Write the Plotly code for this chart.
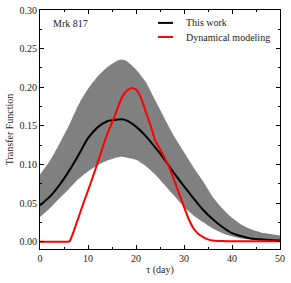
import plotly.graph_objects as go

# ---- data ----
tau_model = [0, 2, 4, 6, 8, 10, 12, 14, 16, 17, 18, 20, 22, 24, 26, 28, 30,
             32, 34, 36, 38, 40, 42, 44, 46, 48, 50]
this_work = [0.047, 0.058, 0.073, 0.091, 0.112, 0.134, 0.148, 0.156, 0.158, 0.1585,
             0.157, 0.149, 0.137, 0.122, 0.106, 0.088, 0.072, 0.056, 0.041, 0.029,
             0.019, 0.011, 0.007, 0.004, 0.003, 0.002, 0.0015]
band_upper = [0.087, 0.104, 0.126, 0.150, 0.177, 0.198, 0.214, 0.226, 0.234, 0.236,
              0.234, 0.223, 0.207, 0.183, 0.159, 0.136, 0.116, 0.096, 0.078, 0.058,
              0.043, 0.031, 0.022, 0.016, 0.012, 0.010, 0.008]
band_lower = [0.032, 0.043, 0.056, 0.068, 0.081, 0.091, 0.099, 0.105, 0.109, 0.110,
              0.109, 0.106, 0.098, 0.087, 0.073, 0.059, 0.045, 0.034, 0.025, 0.017,
              0.011, 0.007, 0.004, 0.0025, 0.0015, 0.001, 0.0007]

tau_dyn = [0, 2, 4, 6, 6.3, 7, 8, 9, 10, 11, 12, 13, 14, 15, 16, 17, 18, 19, 20,
           21, 22, 23, 24, 25, 26, 27, 28, 29, 30, 31, 32, 33, 34, 35, 36, 38, 40,
           45, 50]
dyn_model = [0.0, 0.0, 0.0, 0.0, 0.002, 0.013, 0.031, 0.049, 0.066, 0.084, 0.102,
             0.121, 0.139, 0.154, 0.170, 0.186, 0.195, 0.199, 0.197, 0.187, 0.169,
             0.151, 0.131, 0.120, 0.108, 0.095, 0.079, 0.062, 0.045, 0.029, 0.017,
             0.010, 0.006, 0.003, 0.0015, 0.0007, 0.0005, 0.0005, 0.0005]

legend_labels = ["This work", "Dynamical modeling"]
legend_colors = ["black", "#ff0000"]

x_ticks = [0, 10, 20, 30, 40, 50]
y_ticks = [0.00, 0.05, 0.10, 0.15, 0.20, 0.25, 0.30]
y_tick_labels = ["0.00", "0.05", "0.10", "0.15", "0.20", "0.25", "0.30"]

FONT = "Liberation Serif"
TXT = "#222"

fig = go.Figure()
fig.add_trace(go.Scatter(x=tau_model, y=band_lower, mode="lines",
                         line=dict(width=0, shape="spline", smoothing=0.6),
                         showlegend=False, hoverinfo="skip"))
fig.add_trace(go.Scatter(x=tau_model, y=band_upper, mode="lines",
                         line=dict(width=0, shape="spline", smoothing=0.6),
                         fill="tonexty", fillcolor="#808080",
                         showlegend=False, hoverinfo="skip"))
fig.add_trace(go.Scatter(x=tau_model, y=this_work, mode="lines", name=legend_labels[0],
                         showlegend=False,
                         line=dict(color=legend_colors[0], width=2, shape="spline", smoothing=0.6)))
fig.add_trace(go.Scatter(x=tau_dyn, y=dyn_model, mode="lines", name=legend_labels[1],
                         showlegend=False,
                         line=dict(color=legend_colors[1], width=2, shape="spline", smoothing=0.4)))

axis_common = dict(showline=True, linecolor="black", linewidth=1, mirror="ticks",
                   ticks="inside", ticklen=4, tickcolor="black", showgrid=False,
                   zeroline=False, automargin=False,
                   tickfont=dict(family=FONT, size=10, color=TXT))

fig.update_xaxes(range=[0, 50], tickvals=x_ticks,
                 minor=dict(ticks="inside", dtick=5, ticklen=2, tickcolor="black"),
                 title=dict(text="τ (day)", font=dict(family=FONT, size=10, color=TXT),
                            standoff=2),
                 **axis_common)
fig.update_yaxes(range=[-0.0095, 0.30], tickvals=y_ticks, ticktext=y_tick_labels,
                 minor=dict(ticks="inside", dtick=0.025, ticklen=2, tickcolor="black"),
                 title=dict(text="Transfer Function", font=dict(family=FONT, size=10, color=TXT),
                            standoff=4),
                 **axis_common)

fig.add_annotation(text="Mrk 817", xref="paper", yref="paper", x=0.045, y=0.945,
                   xanchor="left", yanchor="middle", showarrow=False,
                   font=dict(family=FONT, size=10, color=TXT))

# manual legend (short line samples as in the reference)
leg_y = [0.946, 0.887]
for lab, col, yy in zip(legend_labels, legend_colors, leg_y):
    fig.add_shape(type="line", xref="paper", yref="paper", x0=0.492, x1=0.554,
                  y0=yy, y1=yy, line=dict(color=col, width=2))
    fig.add_annotation(text=lab, xref="paper", yref="paper", x=0.598, y=yy,
                       xanchor="left", yanchor="middle", showarrow=False,
                       font=dict(family=FONT, size=10, color=TXT))

fig.update_layout(
    width=291, height=283,
    margin=dict(l=40, r=11, t=10, b=34),
    plot_bgcolor="white", paper_bgcolor="white",
    font=dict(family=FONT, size=10, color=TXT),
    showlegend=False,
)

fig.write_html("out.html", config={"displayModeBar": False},
               post_script="document.body.style.margin='0px';"
                           "document.body.style.overflow='hidden';")
